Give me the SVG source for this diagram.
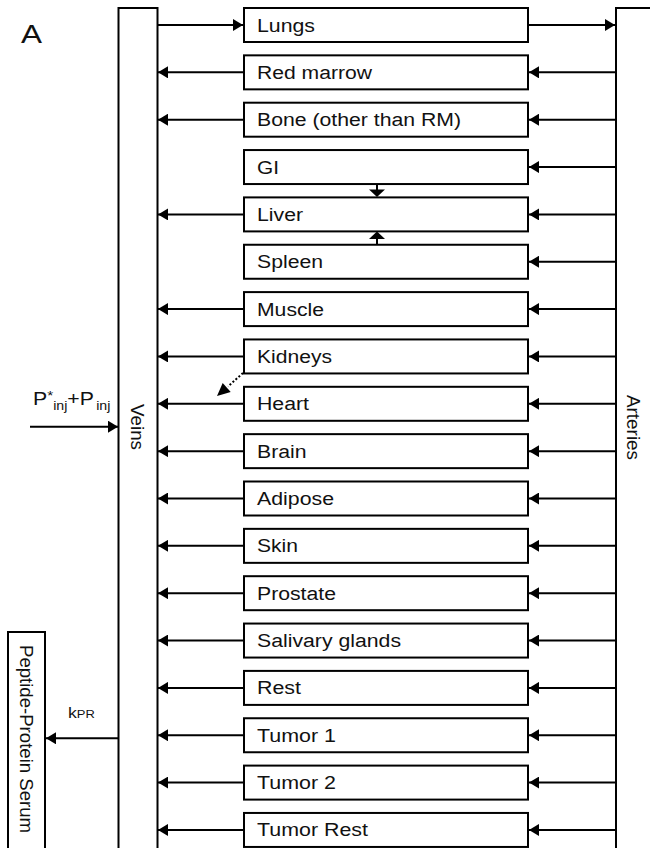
<svg xmlns="http://www.w3.org/2000/svg" width="650" height="848" viewBox="0 0 650 848">
<style>
.box{fill:#fff;stroke:#000;stroke-width:2}
.bar{fill:#fff;stroke:#000;stroke-width:2}
.lbl{font-family:"Liberation Sans",Arial,sans-serif;font-size:18px;fill:#111}
.ln{stroke:#000;stroke-width:2;fill:none}
</style>
<defs>
<marker id="ah" markerUnits="userSpaceOnUse" markerWidth="11" markerHeight="12" refX="10" refY="6" orient="auto">
<path d="M0,0 L10,6 L0,12 z" fill="#000"/>
</marker>
</defs>
<text class="lbl" x="21" y="43" style="font-size:25px" textLength="21" lengthAdjust="spacingAndGlyphs">A</text>
<g id="veins"><rect class="bar" x="118.5" y="8" width="39" height="850"/><text class="lbl" transform="translate(131,404) rotate(90)" textLength="46" lengthAdjust="spacingAndGlyphs">Veins</text></g>
<g id="arteries"><rect class="bar" x="616" y="8" width="50" height="850"/><text class="lbl" transform="translate(627,395) rotate(90)" textLength="65" lengthAdjust="spacingAndGlyphs">Arteries</text></g>
<g id="serum"><rect class="box" x="8" y="632" width="37" height="226"/><text class="lbl" transform="translate(19.5,645) rotate(90)" textLength="188" lengthAdjust="spacingAndGlyphs">Peptide-Protein Serum</text></g>
<g id="lungs"><rect class="box" x="244" y="8" width="284" height="34"/><text class="lbl" x="257" y="31.5" textLength="58" lengthAdjust="spacingAndGlyphs">Lungs</text></g>
<g id="redmarrow"><rect class="box" x="244" y="55.35" width="284" height="34"/><text class="lbl" x="257" y="78.85" textLength="115" lengthAdjust="spacingAndGlyphs">Red marrow</text></g>
<g id="bone"><rect class="box" x="244" y="102.7" width="284" height="34"/><text class="lbl" x="257" y="126.2" textLength="204" lengthAdjust="spacingAndGlyphs">Bone (other than RM)</text></g>
<g id="gi"><rect class="box" x="244" y="150.05" width="284" height="34"/><text class="lbl" x="257" y="173.55" textLength="22" lengthAdjust="spacingAndGlyphs">GI</text></g>
<g id="liver"><rect class="box" x="244" y="197.4" width="284" height="34"/><text class="lbl" x="257" y="220.9" textLength="46" lengthAdjust="spacingAndGlyphs">Liver</text></g>
<g id="spleen"><rect class="box" x="244" y="244.75" width="284" height="34"/><text class="lbl" x="257" y="268.25" textLength="66" lengthAdjust="spacingAndGlyphs">Spleen</text></g>
<g id="muscle"><rect class="box" x="244" y="292.1" width="284" height="34"/><text class="lbl" x="257" y="315.6" textLength="67" lengthAdjust="spacingAndGlyphs">Muscle</text></g>
<g id="kidneys"><rect class="box" x="244" y="339.45" width="284" height="34"/><text class="lbl" x="257" y="362.95" textLength="75" lengthAdjust="spacingAndGlyphs">Kidneys</text></g>
<g id="heart"><rect class="box" x="244" y="386.8" width="284" height="34"/><text class="lbl" x="257" y="410.3" textLength="52" lengthAdjust="spacingAndGlyphs">Heart</text></g>
<g id="brain"><rect class="box" x="244" y="434.15" width="284" height="34"/><text class="lbl" x="257" y="457.65" textLength="49.5" lengthAdjust="spacingAndGlyphs">Brain</text></g>
<g id="adipose"><rect class="box" x="244" y="481.5" width="284" height="34"/><text class="lbl" x="257" y="505" textLength="77" lengthAdjust="spacingAndGlyphs">Adipose</text></g>
<g id="skin"><rect class="box" x="244" y="528.85" width="284" height="34"/><text class="lbl" x="257" y="552.35" textLength="41" lengthAdjust="spacingAndGlyphs">Skin</text></g>
<g id="prostate"><rect class="box" x="244" y="576.2" width="284" height="34"/><text class="lbl" x="257" y="599.7" textLength="79" lengthAdjust="spacingAndGlyphs">Prostate</text></g>
<g id="salivary"><rect class="box" x="244" y="623.55" width="284" height="34"/><text class="lbl" x="257" y="647.05" textLength="144" lengthAdjust="spacingAndGlyphs">Salivary glands</text></g>
<g id="rest"><rect class="box" x="244" y="670.9" width="284" height="34"/><text class="lbl" x="257" y="694.4" textLength="44" lengthAdjust="spacingAndGlyphs">Rest</text></g>
<g id="tumor1"><rect class="box" x="244" y="718.25" width="284" height="34"/><text class="lbl" x="257" y="741.75" textLength="79" lengthAdjust="spacingAndGlyphs">Tumor 1</text></g>
<g id="tumor2"><rect class="box" x="244" y="765.6" width="284" height="34"/><text class="lbl" x="257" y="789.1" textLength="79" lengthAdjust="spacingAndGlyphs">Tumor 2</text></g>
<g id="tumorrest"><rect class="box" x="244" y="812.95" width="284" height="34"/><text class="lbl" x="257" y="836.45" textLength="111" lengthAdjust="spacingAndGlyphs">Tumor Rest</text></g>
<g id="connectors">
<line class="ln" x1="158" y1="25" x2="243" y2="25" marker-end="url(#ah)"/>
<line class="ln" x1="528" y1="25" x2="615" y2="25" marker-end="url(#ah)"/>
<line class="ln" x1="244" y1="72.35" x2="158" y2="72.35" marker-end="url(#ah)"/>
<line class="ln" x1="244" y1="119.7" x2="158" y2="119.7" marker-end="url(#ah)"/>
<line class="ln" x1="244" y1="214.4" x2="158" y2="214.4" marker-end="url(#ah)"/>
<line class="ln" x1="244" y1="309.1" x2="158" y2="309.1" marker-end="url(#ah)"/>
<line class="ln" x1="244" y1="356.45" x2="158" y2="356.45" marker-end="url(#ah)"/>
<line class="ln" x1="244" y1="403.8" x2="158" y2="403.8" marker-end="url(#ah)"/>
<line class="ln" x1="244" y1="451.15" x2="158" y2="451.15" marker-end="url(#ah)"/>
<line class="ln" x1="244" y1="498.5" x2="158" y2="498.5" marker-end="url(#ah)"/>
<line class="ln" x1="244" y1="545.85" x2="158" y2="545.85" marker-end="url(#ah)"/>
<line class="ln" x1="244" y1="593.2" x2="158" y2="593.2" marker-end="url(#ah)"/>
<line class="ln" x1="244" y1="640.55" x2="158" y2="640.55" marker-end="url(#ah)"/>
<line class="ln" x1="244" y1="687.9" x2="158" y2="687.9" marker-end="url(#ah)"/>
<line class="ln" x1="244" y1="735.25" x2="158" y2="735.25" marker-end="url(#ah)"/>
<line class="ln" x1="244" y1="782.6" x2="158" y2="782.6" marker-end="url(#ah)"/>
<line class="ln" x1="244" y1="829.95" x2="158" y2="829.95" marker-end="url(#ah)"/>
<line class="ln" x1="616" y1="72.35" x2="529" y2="72.35" marker-end="url(#ah)"/>
<line class="ln" x1="616" y1="119.7" x2="529" y2="119.7" marker-end="url(#ah)"/>
<line class="ln" x1="616" y1="167.05" x2="529" y2="167.05" marker-end="url(#ah)"/>
<line class="ln" x1="616" y1="214.4" x2="529" y2="214.4" marker-end="url(#ah)"/>
<line class="ln" x1="616" y1="261.75" x2="529" y2="261.75" marker-end="url(#ah)"/>
<line class="ln" x1="616" y1="309.1" x2="529" y2="309.1" marker-end="url(#ah)"/>
<line class="ln" x1="616" y1="356.45" x2="529" y2="356.45" marker-end="url(#ah)"/>
<line class="ln" x1="616" y1="403.8" x2="529" y2="403.8" marker-end="url(#ah)"/>
<line class="ln" x1="616" y1="451.15" x2="529" y2="451.15" marker-end="url(#ah)"/>
<line class="ln" x1="616" y1="498.5" x2="529" y2="498.5" marker-end="url(#ah)"/>
<line class="ln" x1="616" y1="545.85" x2="529" y2="545.85" marker-end="url(#ah)"/>
<line class="ln" x1="616" y1="593.2" x2="529" y2="593.2" marker-end="url(#ah)"/>
<line class="ln" x1="616" y1="640.55" x2="529" y2="640.55" marker-end="url(#ah)"/>
<line class="ln" x1="616" y1="687.9" x2="529" y2="687.9" marker-end="url(#ah)"/>
<line class="ln" x1="616" y1="735.25" x2="529" y2="735.25" marker-end="url(#ah)"/>
<line class="ln" x1="616" y1="782.6" x2="529" y2="782.6" marker-end="url(#ah)"/>
<line class="ln" x1="616" y1="829.95" x2="529" y2="829.95" marker-end="url(#ah)"/>
<line class="ln" x1="377" y1="184" x2="377" y2="190"/>
<path d="M369,189.5 L385,189.5 L377,197 z" fill="#000"/>
<line class="ln" x1="377" y1="245" x2="377" y2="238"/>
<path d="M369,239 L385,239 L377,231.5 z" fill="#000"/>
<line class="ln" x1="243" y1="373" x2="228" y2="386.5" stroke-dasharray="2,2"/>
<path d="M217,396 L230.7,391.9 L222.7,382.9 z" fill="#000"/>
<line class="ln" x1="30" y1="426.7" x2="118" y2="426.7" marker-end="url(#ah)"/>
<line class="ln" x1="118" y1="738.3" x2="46" y2="738.3" marker-end="url(#ah)"/>
</g>
<text class="lbl" transform="translate(33,405) scale(1.18,1)">P<tspan font-size="13" dy="-5">*</tspan><tspan font-size="12" dy="10">inj</tspan><tspan dy="-5">+P</tspan><tspan font-size="12" dy="5" dx="2">inj</tspan></text>
<text class="lbl" transform="translate(68,718) scale(1.18,1)" style="font-size:15px">k<tspan font-size="11">PR</tspan></text>
</svg>
